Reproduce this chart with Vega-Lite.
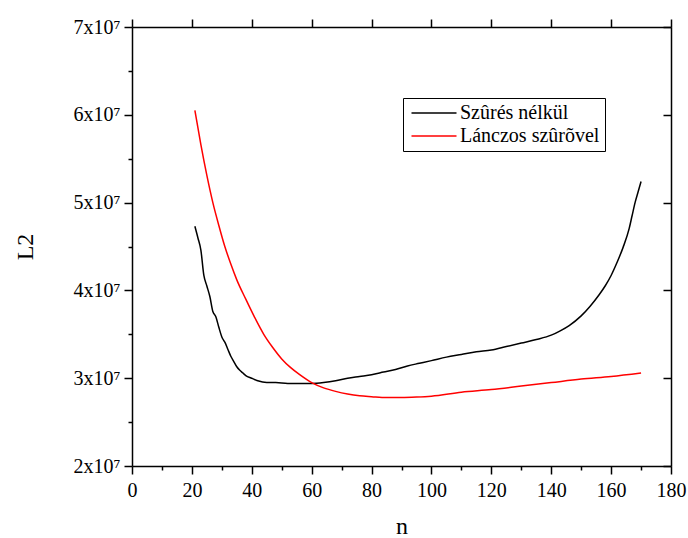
{
  "$schema": "https://vega.github.io/schema/vega-lite/v6.json",
  "width": 539,
  "height": 439,
  "autosize": {"type": "none"},
  "padding": {"left": 132, "top": 27, "right": 17, "bottom": 72},
  "background": "white",
  "config": {
    "view": {"stroke": null},
    "font": "Liberation Serif",
    "text": {"font": "Liberation Serif"},
    "axis": {"grid": false, "domainColor": "black", "domainWidth": 1.5, "tickColor": "black", "tickWidth": 1.5, "labelColor": "black", "labelFont": "Liberation Serif", "labelFontSize": 20, "labelFlush": false, "titleFont": "Liberation Serif", "titleFontWeight": "normal", "titleColor": "black", "titleFontSize": 24},
    "legend": {"labelFont": "Liberation Serif"}
  },
  "datasets": {
    "curves": [
      {"n": 21, "L2": 47300000, "s": "Szûrés nélkül"},
      {"n": 22, "L2": 46000000, "s": "Szûrés nélkül"},
      {"n": 23, "L2": 44600000, "s": "Szûrés nélkül"},
      {"n": 24, "L2": 41700000, "s": "Szûrés nélkül"},
      {"n": 25, "L2": 40500000, "s": "Szûrés nélkül"},
      {"n": 26, "L2": 39300000, "s": "Szûrés nélkül"},
      {"n": 27, "L2": 37600000, "s": "Szûrés nélkül"},
      {"n": 28, "L2": 37000000, "s": "Szûrés nélkül"},
      {"n": 29, "L2": 35800000, "s": "Szûrés nélkül"},
      {"n": 30, "L2": 34700000, "s": "Szûrés nélkül"},
      {"n": 31, "L2": 34100000, "s": "Szûrés nélkül"},
      {"n": 32, "L2": 33300000, "s": "Szûrés nélkül"},
      {"n": 33, "L2": 32500000, "s": "Szûrés nélkül"},
      {"n": 34, "L2": 31900000, "s": "Szûrés nélkül"},
      {"n": 35, "L2": 31300000, "s": "Szûrés nélkül"},
      {"n": 36, "L2": 30900000, "s": "Szûrés nélkül"},
      {"n": 37, "L2": 30600000, "s": "Szûrés nélkül"},
      {"n": 38, "L2": 30300000, "s": "Szûrés nélkül"},
      {"n": 40, "L2": 30000000, "s": "Szûrés nélkül"},
      {"n": 42, "L2": 29700000, "s": "Szûrés nélkül"},
      {"n": 45, "L2": 29500000, "s": "Szûrés nélkül"},
      {"n": 48, "L2": 29500000, "s": "Szûrés nélkül"},
      {"n": 52, "L2": 29400000, "s": "Szûrés nélkül"},
      {"n": 56, "L2": 29400000, "s": "Szûrés nélkül"},
      {"n": 60, "L2": 29400000, "s": "Szûrés nélkül"},
      {"n": 64, "L2": 29500000, "s": "Szûrés nélkül"},
      {"n": 68, "L2": 29700000, "s": "Szûrés nélkül"},
      {"n": 72, "L2": 30000000, "s": "Szûrés nélkül"},
      {"n": 76, "L2": 30200000, "s": "Szûrés nélkül"},
      {"n": 80, "L2": 30400000, "s": "Szûrés nélkül"},
      {"n": 84, "L2": 30700000, "s": "Szûrés nélkül"},
      {"n": 88, "L2": 31000000, "s": "Szûrés nélkül"},
      {"n": 92, "L2": 31400000, "s": "Szûrés nélkül"},
      {"n": 96, "L2": 31700000, "s": "Szûrés nélkül"},
      {"n": 100, "L2": 32000000, "s": "Szûrés nélkül"},
      {"n": 105, "L2": 32400000, "s": "Szûrés nélkül"},
      {"n": 110, "L2": 32700000, "s": "Szûrés nélkül"},
      {"n": 115, "L2": 33000000, "s": "Szûrés nélkül"},
      {"n": 120, "L2": 33200000, "s": "Szûrés nélkül"},
      {"n": 125, "L2": 33600000, "s": "Szûrés nélkül"},
      {"n": 130, "L2": 34000000, "s": "Szûrés nélkül"},
      {"n": 135, "L2": 34400000, "s": "Szûrés nélkül"},
      {"n": 140, "L2": 34900000, "s": "Szûrés nélkül"},
      {"n": 143, "L2": 35400000, "s": "Szûrés nélkül"},
      {"n": 146, "L2": 36000000, "s": "Szûrés nélkül"},
      {"n": 150, "L2": 37100000, "s": "Szûrés nélkül"},
      {"n": 153, "L2": 38200000, "s": "Szûrés nélkül"},
      {"n": 156, "L2": 39500000, "s": "Szûrés nélkül"},
      {"n": 158, "L2": 40500000, "s": "Szûrés nélkül"},
      {"n": 160, "L2": 41700000, "s": "Szûrés nélkül"},
      {"n": 162, "L2": 43200000, "s": "Szûrés nélkül"},
      {"n": 164, "L2": 44900000, "s": "Szûrés nélkül"},
      {"n": 166, "L2": 47000000, "s": "Szûrés nélkül"},
      {"n": 167, "L2": 48500000, "s": "Szûrés nélkül"},
      {"n": 168, "L2": 50000000, "s": "Szûrés nélkül"},
      {"n": 169, "L2": 51200000, "s": "Szûrés nélkül"},
      {"n": 170, "L2": 52400000, "s": "Szûrés nélkül"},
      {"n": 21, "L2": 60500000, "s": "Lánczos szûrõvel"},
      {"n": 23, "L2": 56600000, "s": "Lánczos szûrõvel"},
      {"n": 25, "L2": 53100000, "s": "Lánczos szûrõvel"},
      {"n": 27, "L2": 50000000, "s": "Lánczos szûrõvel"},
      {"n": 29, "L2": 47400000, "s": "Lánczos szûrõvel"},
      {"n": 31, "L2": 45000000, "s": "Lánczos szûrõvel"},
      {"n": 33, "L2": 43000000, "s": "Lánczos szûrõvel"},
      {"n": 35, "L2": 41200000, "s": "Lánczos szûrõvel"},
      {"n": 38, "L2": 39000000, "s": "Lánczos szûrõvel"},
      {"n": 41, "L2": 36900000, "s": "Lánczos szûrõvel"},
      {"n": 44, "L2": 35000000, "s": "Lánczos szûrõvel"},
      {"n": 47, "L2": 33500000, "s": "Lánczos szûrõvel"},
      {"n": 50, "L2": 32200000, "s": "Lánczos szûrõvel"},
      {"n": 53, "L2": 31200000, "s": "Lánczos szûrõvel"},
      {"n": 56, "L2": 30400000, "s": "Lánczos szûrõvel"},
      {"n": 60, "L2": 29500000, "s": "Lánczos szûrõvel"},
      {"n": 64, "L2": 28900000, "s": "Lánczos szûrõvel"},
      {"n": 68, "L2": 28500000, "s": "Lánczos szûrõvel"},
      {"n": 72, "L2": 28200000, "s": "Lánczos szûrõvel"},
      {"n": 76, "L2": 28000000, "s": "Lánczos szûrõvel"},
      {"n": 80, "L2": 27900000, "s": "Lánczos szûrõvel"},
      {"n": 85, "L2": 27800000, "s": "Lánczos szûrõvel"},
      {"n": 90, "L2": 27800000, "s": "Lánczos szûrõvel"},
      {"n": 95, "L2": 27850000, "s": "Lánczos szûrõvel"},
      {"n": 100, "L2": 27950000, "s": "Lánczos szûrõvel"},
      {"n": 110, "L2": 28400000, "s": "Lánczos szûrõvel"},
      {"n": 120, "L2": 28700000, "s": "Lánczos szûrõvel"},
      {"n": 130, "L2": 29100000, "s": "Lánczos szûrõvel"},
      {"n": 140, "L2": 29500000, "s": "Lánczos szûrõvel"},
      {"n": 150, "L2": 29900000, "s": "Lánczos szûrõvel"},
      {"n": 160, "L2": 30200000, "s": "Lánczos szûrõvel"},
      {"n": 170, "L2": 30600000, "s": "Lánczos szûrõvel"}
    ]
  },
  "data": {"name": "curves"},
  "layer": [
    {
      "mark": {"type": "line", "strokeWidth": 1.5, "interpolate": "monotone"},
      "encoding": {
        "x": {"field": "n", "type": "quantitative", "scale": {"domain": [0, 180], "nice": false},
          "axis": {"orient": "bottom", "title": "n", "values": [0,10,20,30,40,50,60,70,80,90,100,110,120,130,140,150,160,170,180],
            "labelExpr": "datum.value % 20 === 0 ? datum.label : ''",
            "labelFont": "Liberation Serif", "labelFlush": false, "labelOverlap": false,
            "tickSize": {"condition": {"test": "datum.value % 20 === 0", "value": 8}, "value": 4},
            "labelPadding": 6, "titlePadding": 14}},
        "y": {"field": "L2", "type": "quantitative", "scale": {"domain": [20000000, 70000000], "nice": false, "zero": false},
          "axis": {"orient": "left", "title": "L2", "values": [20000000,25000000,30000000,35000000,40000000,45000000,50000000,55000000,60000000,65000000,70000000],
            "labelExpr": "datum.value % 10000000 === 0 ? (datum.value / 10000000) + 'x10⁷' : ''",
            "labelFont": "Liberation Serif", "labelFlush": false, "labelOverlap": false,
            "tickSize": {"condition": {"test": "datum.value % 10000000 === 0", "value": 8}, "value": 4},
            "labelPadding": 4, "titlePadding": 36}},
        "color": {"field": "s", "type": "nominal",
          "scale": {"domain": ["Szûrés nélkül", "Lánczos szûrõvel"], "range": ["#000000", "#ff0000"]},
          "legend": {"title": null, "orient": "none", "legendX": 271, "legendY": 71,
            "symbolType": "M-2.5,0H2.5", "symbolSize": 324, "symbolStrokeWidth": 1.5, "symbolOffset": 16, "symbolFillColor": "transparent",
            "labelFont": "Liberation Serif", "labelFontSize": 20, "labelColor": "black", "labelOffset": 16,
            "strokeColor": "black", "padding": 5, "rowPadding": 3}},
        "detail": {"field": "s"}
      }
    },
    {
      "mark": {"type": "line", "strokeOpacity": 0},
      "encoding": {
        "x": {"field": "n", "type": "quantitative", "scale": {"domain": [0, 180], "nice": false},
          "axis": {"orient": "top", "title": null, "values": [0,20,40,60,80,100,120,140,160,180], "labels": false, "tickSize": 8}},
        "y": {"field": "L2", "type": "quantitative", "scale": {"domain": [20000000, 70000000], "nice": false, "zero": false},
          "axis": {"orient": "right", "title": null, "values": [20000000,30000000,40000000,50000000,60000000,70000000], "labels": false, "tickSize": -8}},
        "detail": {"field": "s"}
      }
    }
  ],
  "resolve": {"axis": {"x": "independent", "y": "independent"}}
}
